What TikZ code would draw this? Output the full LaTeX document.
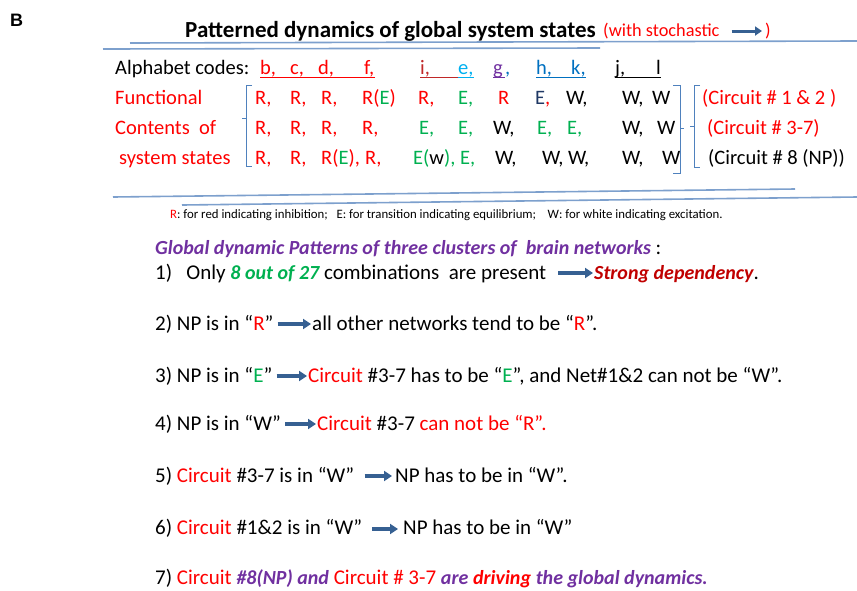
\documentclass[tikz,border=0pt]{standalone}
\usepackage{fontspec}
\setmainfont{Carlito}
\newfontfamily\arialfont{Liberation Sans}
\usetikzlibrary{arrows.meta}
\definecolor{cred}{RGB}{255,0,0}
\definecolor{cdred}{RGB}{192,0,0}
\definecolor{cgreen}{RGB}{0,176,80}
\definecolor{cpurple}{RGB}{112,48,160}
\definecolor{clblue}{RGB}{0,176,240}
\definecolor{cblue}{RGB}{0,112,192}
\definecolor{cnavy}{RGB}{31,56,100}
\definecolor{cird}{RGB}{192,40,40}
\definecolor{arrowc}{RGB}{54,96,146}
\definecolor{rulec}{RGB}{125,160,205}
\definecolor{brc}{RGB}{79,129,189}
\newcommand{\bi}[1]{{\fontsize{20}{24}\bfseries\itshape\selectfont #1}}
\begin{document}
\begin{tikzpicture}[x=1pt,y=-1pt,
  base/.style={inner sep=0pt, anchor=base west},
  ttl/.style={base, font=\fontsize{23}{26}\bfseries\selectfont},
  al/.style={base, font=\fontsize{20.5}{24}\selectfont},
  itm/.style={base, font=\fontsize{21}{25}\selectfont},
  fnote/.style={base, font=\fontsize{12.8}{15}\selectfont},
  barrow/.style={draw=arrowc, line width=3.6pt, -{Triangle[length=8pt,width=10pt]}},
  ul/.style={line width=1pt},
  hrule/.style={draw=rulec, line width=1.6pt},
  brk/.style={draw=brc, line width=0.9pt}]
\useasboundingbox (0,0) rectangle (857,590);

% panel letter
\node[base, font=\arialfont\fontsize{18}{20}\bfseries\selectfont] (lbl) at (10,26) {B};

% title
\node[ttl] (title) at (185,37) {Patterned dynamics of global system states};
\node[base, font=\fontsize{18.3}{21}\selectfont, text=cred] (stoch) at (603,36) {(with stochastic};
\node[base, font=\fontsize{18.3}{21}\selectfont, text=cred] (stochend) at (765,36) {)};
\draw[barrow, line width=3pt, -{Triangle[length=7pt,width=9pt]}] ([xshift=12pt,yshift=5pt]stoch.base east) -- ([xshift=-3pt,yshift=5pt]stochend.base west);

% rules under title
\coordinate (ra1) at (130,43); \coordinate (ra2) at (857,41);
\coordinate (rb1) at (103,49); \coordinate (rb2) at (600,48);
\draw[hrule] (ra1) -- (ra2);
\draw[hrule] (rb1) -- (rb2);

% alphabet codes
\node[al] (alab) at (115,74) {Alphabet codes:};
\node[al, text=cred] (lb) at (260,74) {b,};
\node[al, text=cred] (lc) at (290,74) {c,};
\node[al, text=cred] (ld) at (318,74) {d,};
\node[al, text=cred] (lf) at (364,74) {f,};
\node[al, text=cird] (li) at (420,74) {i,};
\node[al, text=clblue] (le) at (458,74) {e,};
\node[al, text=cpurple] (lg) at (493,74) {g};
\node[al, text=cblue] (lgc) at (505,74) {,};
\node[al, text=cblue] (lh) at (536,74) {h,};
\node[al, text=cblue] (lk) at (571,74) {k,};
\node[al] (lj) at (615,74) {j,};
\node[al] (ll) at (656,74) {l};
\draw[ul, cred] ([yshift=-3pt]lb.base west) -- ([yshift=-3pt]lf.base east);
\draw[ul, cird] ([yshift=-3pt]li.base west) -- ([yshift=-3pt]le.base west);
\draw[ul, clblue] ([yshift=-3pt]le.base west) -- ([yshift=-3pt]le.base east);
\draw[ul, cpurple] ([yshift=-3pt]lg.base west) -- ([xshift=2pt,yshift=-3pt]lg.base east);
\draw[ul, cblue] ([yshift=-3pt]lh.base west) -- ([yshift=-3pt]lk.base east);
\draw[ul, black] ([yshift=-3pt]lj.base west) -- ([yshift=-3pt]ll.base east);

% row labels
\node[al, text=cred] (fa) at (115,104) {Functional};
\node[al, text=cred] (fb) at (115,134) {Contents\ \ of};
\node[al, text=cred] (fc) at (119,164) {system states};

% row 1
\node[al, text=cred] (a1) at (255,104) {R,};
\node[al, text=cred] (a2) at (290,104) {R,};
\node[al, text=cred] (a3) at (321,104) {R,};
\node[al, text=cred] (a4) at (362,104) {R(\textcolor{cgreen}{E})};
\node[al, text=cred] (a5) at (418,104) {R,};
\node[al, text=cgreen] (a6) at (458,104) {E,};
\node[al, text=cred] (a7) at (498,104) {R};
\node[al, text=cnavy] (a8) at (535,104) {E\textcolor{cred}{,}};
\node[al] (a9) at (566,104) {W,};
\node[al] (a10) at (622,104) {W,};
\node[al] (a11) at (652,104) {W};
% row 2
\node[al, text=cred] (b1) at (255,134) {R,};
\node[al, text=cred] (b2) at (290,134) {R,};
\node[al, text=cred] (b3) at (321,134) {R,};
\node[al, text=cred] (b4) at (362,134) {R,};
\node[al, text=cgreen] (b5) at (419,134) {E,};
\node[al, text=cgreen] (b6) at (458,134) {E,};
\node[al] (b7) at (493,134) {W,};
\node[al, text=cgreen] (b8) at (537,134) {E,};
\node[al, text=cgreen] (b9) at (567,134) {E,};
\node[al] (b10) at (622,134) {W,};
\node[al] (b11) at (657,134) {W};
% row 3
\node[al, text=cred] (c1) at (255,164) {R,};
\node[al, text=cred] (c2) at (290,164) {R,};
\node[al, text=cred] (c3) at (321,164) {R(\textcolor{cgreen}{E}),};
\node[al, text=cred] (c4) at (365,164) {R,};
\node[al, text=cgreen] (c5) at (413,164) {E(\textcolor{black}{w}), E,};
\node[al] (c7) at (495,164) {W,};
\node[al] (c8) at (542,164) {W, W,};
\node[al] (c10) at (622,164) {W,};
\node[al] (c11) at (662,164) {W};

% circuit labels
\node[al, text=cred] (ca) at (702,104) {(Circuit \# 1 \& 2 )};
\node[al, text=cred] (cb) at (707,134) {(Circuit \# 3-7)};
\node[al] (cc) at (708,164) {(Circuit \# 8 (NP))};

% brackets
\draw[brk] (252,85) -- (246,85) -- (246,166) -- (252,166);
\draw[brk] (246,118) -- (242,118);
\draw[brk] (673,85) -- (680,85) -- (680,173) -- (673,173);
\draw[brk] (680,128) -- (684,128);
\draw[brk] (700,85) -- (694,85) -- (694,167) -- (700,167);
\draw[brk] (694,126) -- (690,126);

% rules under table
\coordinate (rc1) at (113,197); \coordinate (rc2) at (795,189);
\coordinate (rd1) at (182,205); \coordinate (rd2) at (857,197);
\draw[hrule] (rc1) -- (rc2);
\draw[hrule] (rd1) -- (rd2);

% footnote
\node[fnote] (fn) at (170,218) {\textcolor{cred}{R}: for red indicating inhibition;\ \ \ E: for transition indicating equilibrium;\ \ \ \ W: for white indicating excitation.};

% heading
\node[itm] (hd) at (155,254) {\textcolor{cpurple}{\bi{Global dynamic Patterns of three clusters of\ \ brain networks}} :};

% item 1
\node[itm] (i1a) at (155,279) {1)\ \ \ Only \textcolor{cgreen}{\bi{8 out of 27}} combinations\ \ are present};
\node[itm] (i1b) at (594,279) {\textcolor{cdred}{\bi{Strong dependency}}.};
\draw[barrow] ([xshift=12pt,yshift=6pt]i1a.base east) -- ([xshift=-1pt,yshift=6pt]i1b.base west);

% item 2
\node[itm] (i2a) at (155,330) {2) NP is in “\textcolor{cred}{R}”};
\node[itm] (i2b) at (312,330) {all other networks tend to be “\textcolor{cred}{R}”.};
\draw[barrow] ([xshift=4pt,yshift=6pt]i2a.base east) -- ([xshift=-1pt,yshift=6pt]i2b.base west);

% item 3
\node[itm] (i3a) at (155,382) {3) NP is in “\textcolor{cgreen}{E}”};
\node[itm] (i3b) at (308,382) {\textcolor{cred}{Circuit} \#3-7 has to be “\textcolor{cgreen}{E}”, and Net\#1\&2 can not be “W”.};
\draw[barrow] ([xshift=4pt,yshift=6pt]i3a.base east) -- ([xshift=-1pt,yshift=6pt]i3b.base west);

% item 4
\node[itm] (i4a) at (155,430) {4) NP is in “W”};
\node[itm] (i4b) at (317,430) {\textcolor{cred}{Circuit} \#3-7 \textcolor{cred}{can not be “R”.}};
\draw[barrow] ([xshift=4pt,yshift=6pt]i4a.base east) -- ([xshift=-1pt,yshift=6pt]i4b.base west);

% item 5
\node[itm] (i5a) at (155,482) {5) \textcolor{cred}{Circuit} \#3-7 is in “W”};
\node[itm] (i5b) at (395,482) {NP has to be in “W”.};
\draw[barrow] ([xshift=10pt,yshift=6pt]i5a.base east) -- ([xshift=-3pt,yshift=6pt]i5b.base west);

% item 6
\node[itm] (i6a) at (155,534) {6) \textcolor{cred}{Circuit} \#1\&2 is in “W”};
\node[itm] (i6b) at (403,534) {NP has to be in “W”};
\draw[barrow] ([xshift=10pt,yshift=5pt]i6a.base east) -- ([xshift=-5pt,yshift=5pt]i6b.base west);

% item 7
\node[itm] (i7) at (155,584) {7) \textcolor{cred}{Circuit} \textcolor{cpurple}{\bi{\#8(NP) and}} \textcolor{cred}{Circuit \# 3-7} \textcolor{cpurple}{\bi{are}} \textcolor{cred}{\bi{driving}} \textcolor{cpurple}{\bi{the global dynamics.}}};
\end{tikzpicture}
\end{document}
